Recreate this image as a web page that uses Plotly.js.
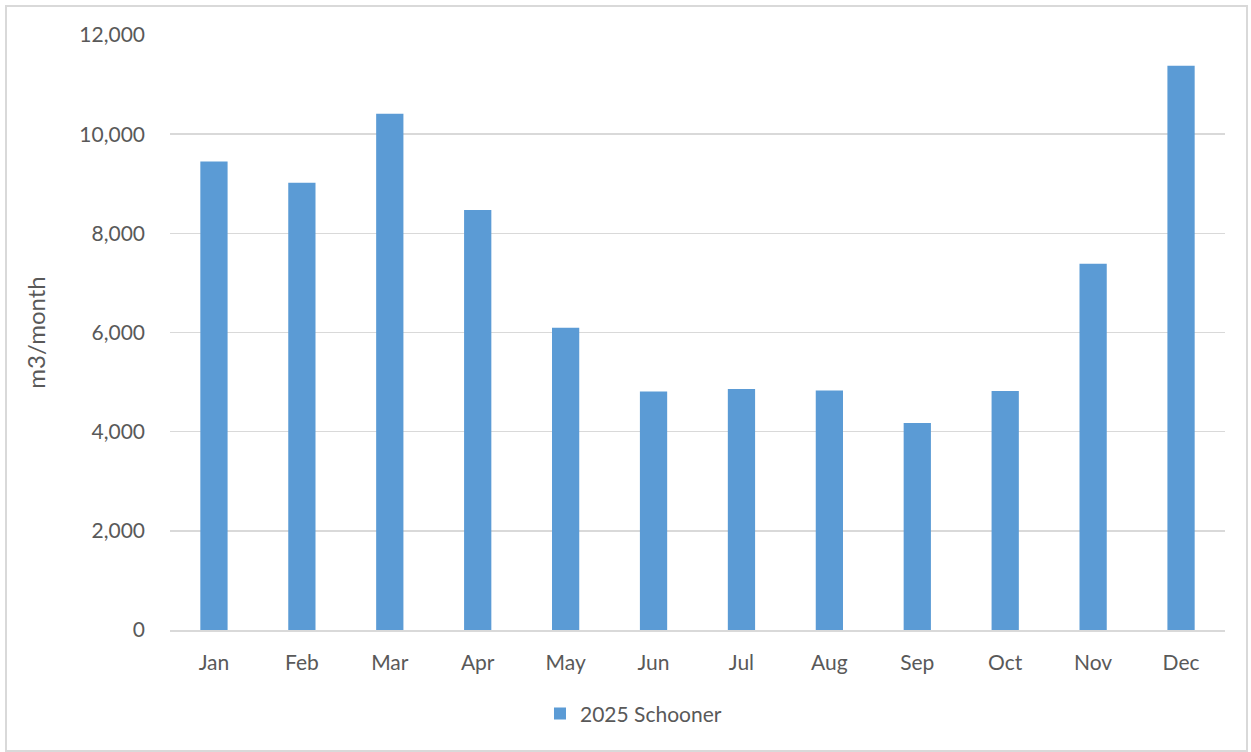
<!DOCTYPE html>
<html>
<head>
<meta charset="utf-8">
<script src="https://cdn.plot.ly/plotly-3.0.1.min.js"></script>
<style>
  html, body { margin: 0; padding: 0; background: #fff; }
  #chart { width: 1251px; height: 752px; }
  #frame { position: absolute; left: 5px; top: 5px; width: 1239px; height: 743px; border: 2px solid #d9d9d9; pointer-events: none; }
</style>
</head>
<body>
<div id="chart"></div>
<div id="frame"></div>
<script>
const months = ["Jan", "Feb", "Mar", "Apr", "May", "Jun", "Jul", "Aug", "Sep", "Oct", "Nov", "Dec"];
const schooner2025 = [9450, 9020, 10410, 8470, 6095, 4808, 4863, 4828, 4176, 4822, 7388, 11380];
const seriesName = "2025 Schooner";
const yTickVals = [0, 2000, 4000, 6000, 8000, 10000, 12000];
const yTickText = ["0", "2,000", "4,000", "6,000", "8,000", "10,000", "12,000"];
const yTitle = "m3/month";

const font = "Lato, 'Open Sans', sans-serif";
const trace = {
  type: "bar",
  x: months,
  y: schooner2025,
  name: seriesName,
  marker: { color: "#5b9bd5" },
  showlegend: true,
  hoverinfo: "x+y"
};

const layout = {
  width: 1251,
  height: 752,
  margin: { l: 170, r: 26, t: 35, b: 122 },
  paper_bgcolor: "#ffffff",
  plot_bgcolor: "#ffffff",
  font: { family: font, color: "#595959", size: 20 },
  bargap: 0.69,
  showlegend: true,
  xaxis: {
    type: "category",
    showgrid: false,
    showline: true,
    linecolor: "#d9d9d9",
    linewidth: 1.5,
    ticks: "",
    ticklabelstandoff: 13,
    tickfont: { family: font, size: 21, color: "#595959" },
    zeroline: false
  },
  yaxis: {
    range: [0, 12000],
    tickvals: yTickVals,
    ticktext: yTickText,
    showgrid: true,
    gridcolor: "#d9d9d9",
    gridwidth: 1.5,
    zeroline: false,
    showline: false,
    ticks: "",
    ticklabelstandoff: 24,
    tickfont: { family: font, size: 21, color: "#595959" },
    title: { text: yTitle, font: { family: font, size: 24, color: "#595959" }, standoff: 26 }
  },
  legend: {
    orientation: "h",
    x: 0.3507,
    xanchor: "left",
    y: -0.141,
    yanchor: "middle",
    font: { family: font, size: 21, color: "#595959" },
    itemwidth: 30,
    bgcolor: "rgba(0,0,0,0)"
  }
};

Plotly.newPlot("chart", [trace], layout, { displayModeBar: false, staticPlot: true });
</script>
</body>
</html>
